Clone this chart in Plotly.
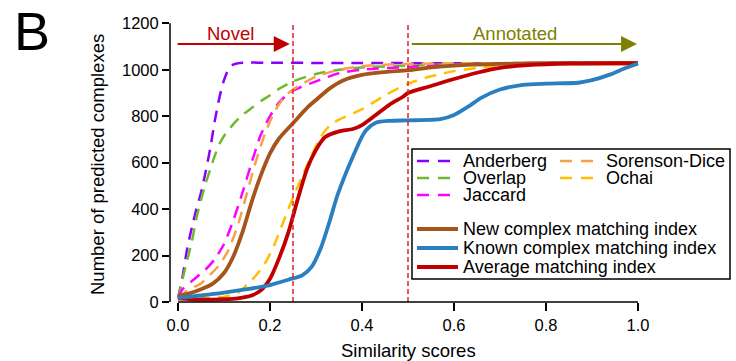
import plotly.graph_objects as go

# Cumulative number of predicted complexes vs. similarity score threshold
anderberg_x = [0, 0.01, 0.02, 0.03, 0.04, 0.05, 0.06, 0.07, 0.08, 0.09, 0.10, 0.11, 0.12, 0.14, 0.2, 0.4, 0.6, 0.8, 1.0]
anderberg_y = [15, 110, 230, 320, 400, 470, 560, 660, 780, 880, 955, 1003, 1022, 1030, 1030, 1029, 1028, 1028, 1028]

overlap_x = [0, 0.01, 0.02, 0.03, 0.04, 0.05, 0.06, 0.07, 0.08, 0.09, 0.10, 0.11, 0.12, 0.14, 0.16, 0.18, 0.2, 0.22, 0.25, 0.3, 0.35, 0.4, 0.5, 0.6, 0.7, 1.0]
overlap_y = [15, 100, 180, 260, 360, 440, 510, 570, 630, 680, 715, 740, 765, 805, 835, 865, 890, 918, 950, 982, 1000, 1010, 1018, 1024, 1028, 1028]

jaccard_x = [0, 0.01, 0.03, 0.06, 0.08, 0.10, 0.12, 0.14, 0.16, 0.18, 0.2, 0.22, 0.25, 0.3, 0.35, 0.4, 0.5, 0.6, 0.7, 1.0]
jaccard_y = [18, 55, 90, 140, 185, 250, 350, 470, 600, 720, 800, 860, 910, 950, 985, 1000, 1012, 1022, 1028, 1028]

sorenson_x = [0, 0.02, 0.05, 0.07, 0.09, 0.11, 0.13, 0.15, 0.17, 0.19, 0.21, 0.23, 0.25, 0.3, 0.35, 0.4, 0.45, 0.5, 0.6, 1.0]
sorenson_y = [15, 50, 80, 118, 160, 225, 330, 470, 610, 730, 820, 880, 915, 970, 1000, 1015, 1022, 1025, 1028, 1028]

ochai_x = [0, 0.05, 0.1, 0.13, 0.15, 0.17, 0.19, 0.21, 0.23, 0.25, 0.27, 0.29, 0.31, 0.33, 0.35, 0.4, 0.45, 0.5, 0.55, 0.6, 0.65, 0.7, 0.8, 1.0]
ochai_y = [12, 15, 22, 40, 75, 115, 170, 250, 350, 450, 540, 630, 710, 760, 785, 830, 890, 940, 972, 994, 1008, 1018, 1026, 1028]

new_x = [0, 0.025, 0.05, 0.075, 0.1, 0.12, 0.14, 0.16, 0.18, 0.2, 0.22, 0.25, 0.28, 0.3, 0.33, 0.36, 0.4, 0.45, 0.5, 0.55, 0.6, 0.7, 0.8, 1.0]
new_y = [25, 37, 55, 78, 125, 195, 300, 430, 545, 640, 705, 770, 835, 870, 920, 955, 978, 990, 998, 1010, 1018, 1025, 1028, 1028]

known_x = [0, 0.05, 0.1, 0.15, 0.2, 0.24, 0.27, 0.29, 0.31, 0.33, 0.345, 0.36, 0.38, 0.4, 0.41, 0.43, 0.46, 0.5, 0.57, 0.6, 0.63, 0.66, 0.7, 0.75, 0.8, 0.87, 0.9, 0.94, 0.97, 1.0]
known_y = [18, 28, 40, 55, 73, 96, 115, 150, 230, 350, 450, 530, 625, 712, 742, 772, 780, 782, 787, 805, 840, 880, 915, 935, 940, 944, 955, 980, 1005, 1027]

average_x = [0, 0.05, 0.1, 0.13, 0.16, 0.18, 0.2, 0.22, 0.24, 0.26, 0.28, 0.3, 0.32, 0.35, 0.38, 0.4, 0.43, 0.46, 0.49, 0.5, 0.55, 0.6, 0.65, 0.7, 0.76, 0.85, 1.0]
average_y = [16, 10, 12, 16, 28, 50, 100, 190, 300, 440, 570, 655, 710, 735, 745, 762, 805, 850, 885, 900, 930, 960, 987, 1008, 1020, 1027, 1028]

y_ticks = [0, 200, 400, 600, 800, 1000, 1200]
x_ticks = [0.0, 0.2, 0.4, 0.6, 0.8, 1.0]
x_tick_labels = ["0.0", "0.2", "0.4", "0.6", "0.8", "1.0"]
thresholds = [0.25, 0.5]
arrow_level = 1111

FONT = "Liberation Sans, Arial, sans-serif"
W, H = 736, 361
L, R, T, B = 170, 76, 10, 49
PW, PH = W - L - R, H - T - B


def px_x(px):
    return (px - L) / PW


def px_y(py):
    return (H - B - py) / PH


dashed = [
    ("Anderberg", anderberg_x, anderberg_y, "#8a00ff"),
    ("Overlap", overlap_x, overlap_y, "#6fba2c"),
    ("Jaccard", jaccard_x, jaccard_y, "#ff00ff"),
    ("Sorenson-Dice", sorenson_x, sorenson_y, "#f7a046"),
    ("Ochai", ochai_x, ochai_y, "#ffc000"),
]
solid = [
    ("New complex matching index", new_x, new_y, "#a5541c"),
    ("Average matching index", average_x, average_y, "#c00000"),
    ("Known complex matching index", known_x, known_y, "#2a7fc1"),
]

fig = go.Figure()
for name, xs, ys, col in dashed:
    fig.add_trace(go.Scatter(x=xs, y=ys, mode="lines", name=name,
                             line=dict(color=col, width=2.5, dash="12px,8px",
                                       shape="spline", smoothing=0.7)))
for name, xs, ys, col in solid:
    fig.add_trace(go.Scatter(x=xs, y=ys, mode="lines", name=name,
                             line=dict(color=col, width=3.8,
                                       shape="spline", smoothing=0.7)))

shapes = []
# threshold markers
for t in thresholds:
    shapes.append(dict(type="line", xref="x", yref="y", x0=t, x1=t, y0=0, y1=1200,
                       line=dict(color="#e2222e", width=1.5, dash="5px,3px")))
# detached axis lines
shapes.append(dict(type="line", xref="paper", yref="y", x0=0, x1=0, y0=0, y1=1200,
                   line=dict(color="black", width=1.5)))
shapes.append(dict(type="line", xref="x", yref="y", x0=0, x1=1, y0=0, y1=0,
                   line=dict(color="black", width=1.5)))

annotations = []
# region arrows
annotations.append(dict(x=0.243, y=arrow_level, ax=-0.004, ay=arrow_level,
                        xref="x", yref="y", axref="x", ayref="y", text="",
                        showarrow=True, arrowhead=2, arrowsize=1.6, arrowwidth=2,
                        arrowcolor="#c00000"))
annotations.append(dict(x=0.998, y=arrow_level, ax=0.505, ay=arrow_level,
                        xref="x", yref="y", axref="x", ayref="y", text="",
                        showarrow=True, arrowhead=2, arrowsize=1.6, arrowwidth=2,
                        arrowcolor="#808000"))
annotations.append(dict(x=px_x(230), y=px_y(34), xref="paper", yref="paper",
                        text="Novel", showarrow=False, xanchor="center", yanchor="middle",
                        font=dict(family=FONT, size=18.5, color="#c00000")))
annotations.append(dict(x=px_x(515), y=px_y(34), xref="paper", yref="paper",
                        text="Annotated", showarrow=False, xanchor="center", yanchor="middle",
                        font=dict(family=FONT, size=18.5, color="#808000")))

# axis titles and panel letter
annotations.append(dict(x=px_x(97), y=px_y(165), xref="paper", yref="paper",
                        text="Number of predicted complexes", textangle=-90, showarrow=False,
                        xanchor="center", yanchor="middle",
                        font=dict(family=FONT, size=18.5, color="black")))
annotations.append(dict(x=px_x(408), y=px_y(350), xref="paper", yref="paper",
                        text="Similarity scores", showarrow=False,
                        xanchor="center", yanchor="middle",
                        font=dict(family=FONT, size=18.5, color="black")))
annotations.append(dict(x=px_x(12), y=px_y(31), xref="paper", yref="paper",
                        text="B", showarrow=False, xanchor="left", yanchor="middle",
                        font=dict(family=FONT, size=54, color="black")))

# legend box
shapes.append(dict(type="rect", xref="paper", yref="paper",
                   x0=px_x(412), x1=px_x(730), y0=px_y(279), y1=px_y(149),
                   line=dict(color="black", width=1.5), fillcolor="white", layer="above"))

legend_rows = [
    ("Anderberg", "#8a00ff", True, 417, 450, 462, 161),
    ("Overlap", "#6fba2c", True, 417, 450, 462, 178),
    ("Jaccard", "#ff00ff", True, 417, 450, 462, 195),
    ("Sorenson-Dice", "#f7a046", True, 560, 593, 605, 161),
    ("Ochai", "#ffc000", True, 560, 593, 605, 178),
    ("New complex matching index", "#a5541c", False, 417, 458, 462, 229),
    ("Known complex matching index", "#2a7fc1", False, 417, 458, 462, 248),
    ("Average matching index", "#c00000", False, 417, 458, 462, 267),
]
for label, col, is_dash, lx0, lx1, tx, ly in legend_rows:
    shapes.append(dict(type="line", xref="paper", yref="paper",
                       x0=px_x(lx0), x1=px_x(lx1), y0=px_y(ly), y1=px_y(ly), layer="above",
                       line=dict(color=col, width=2.5 if is_dash else 3.8,
                                 dash="12px,9px" if is_dash else "solid")))
    annotations.append(dict(x=px_x(tx), y=px_y(ly), xref="paper", yref="paper",
                            text=label, showarrow=False, xanchor="left", yanchor="middle",
                            borderpad=0,
                            font=dict(family=FONT, size=18, color="black")))

x0_px, x1_px = 178, 638
x_scale = (x1_px - x0_px)
y0_px, y1200_px = 302, 23.3
y_scale = (y0_px - y1200_px) / 1200

fig.update_layout(
    width=W, height=H,
    margin=dict(l=L, r=R, t=T, b=B),
    paper_bgcolor="white", plot_bgcolor="white",
    showlegend=False,
    shapes=shapes,
    annotations=annotations,
    xaxis=dict(range=[(L - x0_px) / x_scale, (L + PW - x0_px) / x_scale],
               tickvals=x_ticks, ticktext=x_tick_labels,
               ticks="outside", ticklen=8, tickwidth=1.5, tickcolor="black",
               showline=False, showgrid=False, zeroline=False,
               anchor="free", position=(H - B - y0_px) / PH,
               tickfont=dict(family=FONT, size=16.5, color="black")),
    yaxis=dict(range=[-(H - B - y0_px) / y_scale, (y0_px - T) / y_scale],
               tickvals=y_ticks,
               ticks="outside", ticklen=7, tickwidth=1.5, tickcolor="black",
               showline=False, showgrid=False, zeroline=False,
               tickfont=dict(family=FONT, size=16.5, color="black")),
)

fig.write_html("out.html")
